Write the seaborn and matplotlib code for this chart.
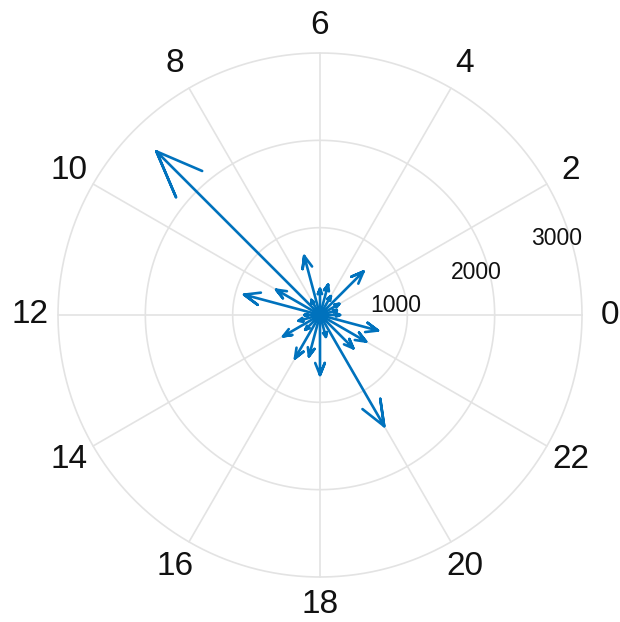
import numpy as np
import pandas as pd
import matplotlib
matplotlib.use("Agg")
import matplotlib.pyplot as plt
import seaborn as sns

# ---- data ----
hours = [0, 1, 2, 3, 4, 5, 6, 7, 8, 9, 10, 11,
         12, 13, 14, 15, 16, 17, 18, 19, 20, 21, 22, 23]
values = [230, 200, 255, 705, 250, 360, 300, 700, 200, 2650, 580, 900,
          180, 255, 488, 240, 573, 490, 687, 260, 1470, 540, 610, 687]
angle_labels = ["0", "2", "4", "6", "8", "10", "12", "14", "16", "18", "20", "22"]
ring_values = [1000, 2000, 3000]
ring_labels = ["1000", "2000", "3000"]

BLUE = "#0072BD"
GRID = "#E3E3E3"

sns.set_style("white")
plt.rcParams["font.family"] = ["Liberation Sans", "DejaVu Sans"]

fig = plt.figure(figsize=(6.2, 6.22), dpi=100)
ax = fig.add_axes([0, 0, 1, 1])
k = 262 / 3000.0  # px per data unit
ax.set_xlim(-320 / k, 300 / k)
ax.set_ylim(-(622 - 315) / k, 315 / k)
ax.axis("off")

rmax = ring_values[-1]
# grid circles
t = np.linspace(0, 2 * np.pi, 400)
for r in ring_values:
    ax.plot(r * np.cos(t), r * np.sin(t), color=GRID, lw=1.2, zorder=1)
# spokes every 30 degrees
for i in range(len(angle_labels)):
    a = np.deg2rad(30 * i)
    ax.plot([0, rmax * np.cos(a)], [0, rmax * np.sin(a)], color=GRID, lw=1.2, zorder=1)
    ax.text(3320 * np.cos(a), 3320 * np.sin(a), angle_labels[i],
            ha="center", va="center", fontsize=24, color="#111111")

# radial labels
la = np.deg2rad(22.5)
for r, lab in zip(ring_values, ring_labels):
    ax.annotate(lab, (r * np.cos(la), r * np.sin(la)), xytext=(-3.6, -17.3),
                textcoords="offset points", ha="center", va="center",
                fontsize=16.5, color="#111111")

# compass arrows (MATLAB style heads)
xx = np.array([0, 1, 0.8, 1, 0.8])
yy = np.array([0, 0, 0.08, 0, -0.08])
rows = []
for h, v in zip(hours, values):
    th = np.deg2rad(15 * h)
    c, s = np.cos(th), np.sin(th)
    for j, (px, py) in enumerate(zip(xx * v, yy * v)):
        rows.append({"hour": h, "order": j,
                     "x": px * c - py * s, "y": px * s + py * c})
df = pd.DataFrame(rows)
sns.lineplot(data=df, x="x", y="y", units="hour", estimator=None, sort=False,
             color=BLUE, lw=1.9, ax=ax, legend=False, zorder=3)
ax.set_xlim(-320 / k, 300 / k)
ax.set_ylim(-(622 - 315) / k, 315 / k)
ax.axis("off")

fig.savefig("out.png", dpi=100, facecolor="white")
